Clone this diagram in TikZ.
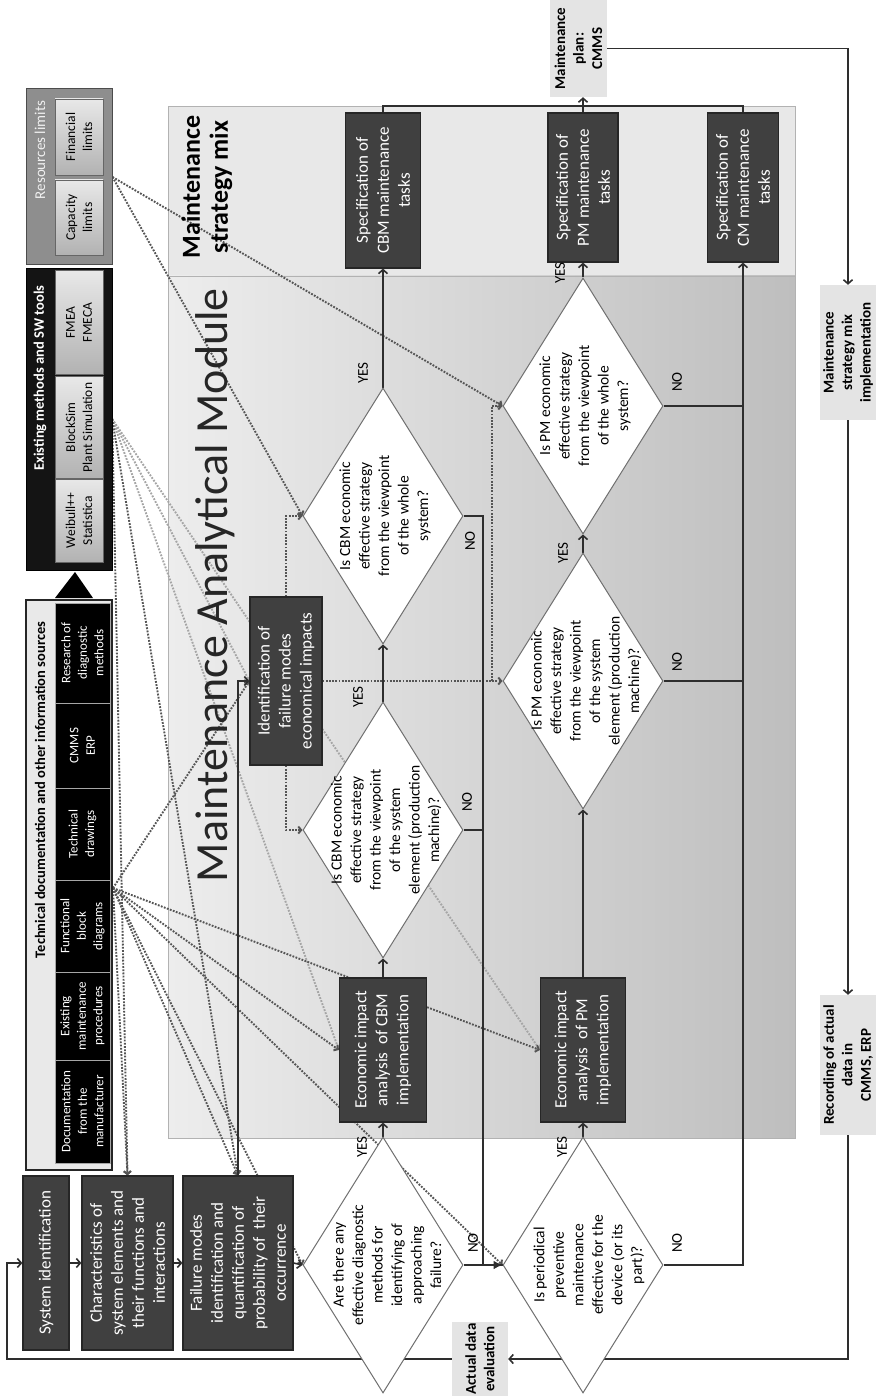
\documentclass[tikz,border=0pt]{standalone}
\usepackage{fontspec}
\setmainfont{Carlito}
\usetikzlibrary{shapes.geometric,arrows.meta,calc}
\pgfdeclarelayer{bg}
\pgfdeclarelayer{wires}
\pgfsetlayers{bg,wires,main}
\definecolor{boxdark}{HTML}{404040}
\definecolor{boxedge}{HTML}{262626}
\definecolor{lbox}{HTML}{E4E4E4}
\definecolor{mixbg}{HTML}{E8E8E8}
\definecolor{modL}{HTML}{EDEDED}
\definecolor{modR}{HTML}{BEBEBE}
\definecolor{resbg}{HTML}{8E8E8E}
\definecolor{btnL}{HTML}{E8E8E8}
\definecolor{btnD}{HTML}{B2B2B2}
\definecolor{dline}{HTML}{555555}
\definecolor{lline}{HTML}{A5A5A5}
\definecolor{dedge}{HTML}{707070}
\definecolor{wirec}{HTML}{2E2E2E}
\definecolor{docbg}{HTML}{E9E9E9}
\tikzset{
  rbox/.style={rotate=90, align=center, inner sep=1pt},
  darkbox/.style={rbox, draw=boxedge, fill=boxdark, text=white, line width=1.2pt,
     font=\fontsize{17}{21}\selectfont},
  blackbox/.style={rbox, draw=gray!70, fill=black, text=white, line width=0.8pt,
     font=\fontsize{13}{16.5}\selectfont, minimum height=55pt},
  btnbox/.style={rbox, draw=gray!80!black, top color=btnL, bottom color=btnD, line width=0.8pt,
     font=\fontsize{13.5}{17}\selectfont, minimum height=48pt},
  lightbox/.style={rbox, fill=lbox, font=\bfseries\fontsize{15}{18.5}\selectfont},
  decision/.style={diamond, rotate=90, draw=dedge, fill=white, line width=1pt,
     minimum width=256pt, minimum height=160pt, inner sep=0pt},
  dtext/.style={rbox, font=\fontsize{15.5}{19.5}\selectfont},
  yn/.style={rbox, font=\fontsize{15}{18}\selectfont},
  wire/.style={draw=wirec, line width=1.6pt},
  arr/.style={wire, -{Straight Barb[length=4pt,width=9pt]}},
  boldarr/.style={wire, line width=2.6pt, -{Latex[length=9pt,width=9pt]}},
  dotline/.style={draw=dline, line width=1.9pt, dash pattern=on 1.8pt off 1.4pt,
     -{Straight Barb[length=3pt,width=7pt]}},
  ldotline/.style={dotline, draw=lline},
}
\begin{document}
\begin{tikzpicture}[x=1pt,y=-1pt]
\useasboundingbox (0,0) rectangle (876,1396);

\begin{pgfonlayer}{bg}
\node[draw=gray!60, fill=mixbg, minimum width=627pt, minimum height=170pt, inner sep=0pt] (mixreg) at (481.5,191) {};
\node[draw=gray!60, left color=modL, right color=modR, minimum width=627pt, minimum height=862pt, inner sep=0pt] (modreg) at (481.5,707) {};
\end{pgfonlayer}

\node[rbox, font=\bfseries\fontsize{26}{28}\selectfont] (mixlbl) at (207,187) {Maintenance\\strategy mix};
\node[rbox, text=black!85, font=\fontsize{46}{50}\selectfont] (modlbl) at (215,585) {Maintenance Analytical Module};

% Resources limits
\node[rbox, fill=resbg, draw=gray!60!black, line width=1pt, minimum width=176pt, minimum height=86pt] (res) at (69,177) {};
\node[rbox, text=white!88!gray, font=\fontsize{15}{18}\selectfont] (restitle) at (40,150) {Resources limits};
\node[btnbox, minimum width=75pt] (cap) at (79,217.5) {Capacity\\limits};
\node[btnbox, minimum width=76pt] (fin) at (79,137) {Financial\\limits};

% Existing methods
\node[rbox, fill=black!92, draw=black, minimum width=302pt, minimum height=86pt] (sw) at (69,419) {};
\node[rbox, text=white, font=\bfseries\fontsize{14.5}{17}\selectfont] (swtitle) at (40,378) {Existing methods and SW tools};
\node[btnbox, minimum width=104pt] (fmea) at (79,322.5) {FMEA\\FMECA};
\node[btnbox, minimum width=102pt] (bsim) at (79,427.5) {BlockSim\\Plant Simulation};
\node[btnbox, minimum width=83pt] (weib) at (79,520.5) {Weibull++\\Statistica};
\fill[black] (75,572) -- (55,598) -- (93,598) -- cycle;

% Technical documentation
\node[rbox, fill=docbg, draw=black!85, line width=1.2pt, minimum width=570pt, minimum height=86pt] (doc) at (69,885) {};
\node[rbox, font=\bfseries\fontsize{14.5}{17}\selectfont] (doctitle) at (40,790) {Technical documentation and other information sources};
\node[blackbox, minimum width=100pt] (research) at (82.5,653) {Research of\\diagnostic\\methods};
\node[blackbox, minimum width=85pt] (cmms) at (82.5,745.5) {CMMS\\ERP};
\node[blackbox, minimum width=92pt] (tdraw) at (82.5,834) {Technical\\drawings};
\node[blackbox, minimum width=92pt] (fblock) at (82.5,926) {Functional\\block\\diagrams};
\node[blackbox, minimum width=88pt] (emaint) at (82.5,1016) {Existing\\maintenance\\procedures};
\node[blackbox, minimum width=103pt] (dman) at (82.5,1111.5) {Documentation\\from the\\manufacturer};

% left chain
\node[darkbox, minimum width=174pt, minimum height=46pt] (sysid) at (46,1263) {System identification};
\node[darkbox, minimum width=174pt, minimum height=91pt] (charact) at (127.5,1263) {Characteristics of\\system elements and\\their functions and\\interactions};
\node[darkbox, minimum width=174pt, minimum height=110pt] (failm) at (238,1263) {Failure modes\\identification and\\quantification of\\probability of\ \ their\\occurrence};

% module boxes
\node[darkbox, minimum width=168pt, minimum height=72pt] (ident) at (286,681) {Identification of\\failure modes\\economical impacts};
\node[darkbox, minimum width=144pt, minimum height=87pt] (cbmimp) at (383,1050) {Economic impact\\analysis\ \ of CBM\\implementation};
\node[darkbox, minimum width=144pt, minimum height=85pt] (pmimp) at (583,1050) {Economic impact\\analysis\ \ of PM\\implementation};
\node[darkbox, minimum width=155pt, minimum height=75pt] (speccbm) at (383,190.5) {Specification of\\CBM maintenance\\tasks};
\node[darkbox, minimum width=149pt, minimum height=70pt] (specpm) at (583,187.5) {Specification of\\PM maintenance\\tasks};
\node[darkbox, minimum width=149pt, minimum height=71pt] (speccm) at (743,187.5) {Specification of\\CM maintenance\\tasks};

% light boxes
\node[lightbox, minimum width=97pt, minimum height=57pt] (mplan) at (578.5,48.5) {Maintenance\\plan:\\CMMS};
\node[lightbox, minimum width=135pt, minimum height=56pt] (msmi) at (848,352.5) {Maintenance\\strategy mix\\implementation};
\node[lightbox, minimum width=140pt, minimum height=56pt] (rec) at (848,1065) {Recording of actual\\data in\\CMMS, ERP};
\node[lightbox, minimum width=74pt, minimum height=56pt] (ade) at (480,1359) {Actual data\\evaluation};

% decisions
\node[decision] (dcbmw) at (383,516) {};
\node[dtext] (tcbmw) at (385,516) {Is CBM economic\\effective strategy\\from the viewpoint\\of the whole\\system?};
\node[decision] (dcbme) at (383,830) {};
\node[dtext] (tcbme) at (386,830) {Is CBM economic\\effective strategy\\from the viewpoint\\of the system\\element (production\\machine)?};
\node[decision] (dpmw) at (583,406) {};
\node[dtext] (tpmw) at (585,406) {Is PM economic\\effective strategy\\from the viewpoint\\of the whole\\system?};
\node[decision] (dpme) at (583,681) {};
\node[dtext] (tpme) at (586,681) {Is PM economic\\effective strategy\\from the viewpoint\\of the system\\element (production\\machine)?};
\node[decision] (dare) at (383,1265) {};
\node[dtext] (tare) at (387,1265) {Are there any\\effective diagnostic\\methods for\\identifying of\\approaching\\failure?};
\node[decision] (dper) at (583,1265) {};
\node[dtext] (tper) at (589,1265) {Is periodical\\preventive\\maintenance\\effective for the\\device (or its\\part)?};

% yes / no labels
\node[yn] (yes1) at (363,373) {YES};
\node[yn] (no1) at (470,541) {NO};
\node[yn] (yes2) at (358,697) {YES};
\node[yn] (no2) at (467,802) {NO};
\node[yn] (yes3) at (362,1147) {YES};
\node[yn] (no3) at (473,1243) {NO};
\node[yn] (yes4) at (560,273) {YES};
\node[yn] (no4) at (677,382) {NO};
\node[yn] (yes5) at (563,553) {YES};
\node[yn] (no5) at (677,662) {NO};
\node[yn] (yes6) at (562,1147) {YES};
\node[yn] (no6) at (677,1243) {NO};

\begin{pgfonlayer}{wires}
% dotted information flows
\coordinate (srcF) at (113,888);
\draw[dotline] (res.south) -- (dcbmw.north);
\draw[dotline] (res.south) -- (dpmw.north);
\draw[ldotline] (sw.south) -- (ident.north);
\draw[ldotline] (sw.south) -- (cbmimp.north);
\draw[ldotline] (sw.south) -- (pmimp.north);
\draw[dotline] (sw.south) -- (charact.east);
\draw[dotline] (sw.south) -- (failm.east);
\draw[dotline] (srcF) -- (ident.north);
\draw[dotline] (srcF) -- (cbmimp.north);
\draw[dotline] (srcF) -- (pmimp.north);
\draw[dotline] (srcF) -- (dare.north);
\draw[dotline] (srcF) -- (dper.north);
\draw[dotline] (srcF) -- (failm.east);
\draw[dotline] (srcF) -- (charact.east);
\draw[dotline] (ident.east) |- (dcbmw.north);
\draw[dotline] (ident.west) |- (dcbme.north);
\draw[dotline] (ident.south) -- (dpme.north);
\coordinate (br) at (492,681);
\draw[dotline] (br) |- (dpmw.north);

% solid flows
\draw[arr] (sysid.south) -- (charact.north);
\draw[arr] (charact.south) -- (failm.north);
\draw[arr] (failm.south) -- (dare.north);
\draw[arr] (failm.east) |- (ident.north);
\draw[arr] (dare.east) -- (cbmimp.west);
\draw[arr] (cbmimp.east) -- (dcbme.west);
\draw[arr] (dcbme.east) -- (dcbmw.west);
\draw[arr] (dcbmw.east) -- (speccbm.west);
\coordinate (nj) at (483,1265);
\draw[wire] (dcbmw.south) -| (nj);
\draw[wire] (dcbme.south) -- (dcbme.south -| nj);
\draw[boldarr] (dare.south) -- (dper.north);
\draw[wire, line width=2.6pt] (nj) -- (dper.north);
\draw[arr] (dper.east) -- (pmimp.west);
\draw[arr] (pmimp.east) -- (dpme.west);
\draw[arr] (dpme.east) -- (dpmw.west);
\draw[arr] (dpmw.east) -- (specpm.west);
\draw[arr] (dper.south) -| (speccm.west);
\draw[wire] (dpmw.south) -- (dpmw.south -| speccm.west);
\draw[wire] (dpme.south) -- (dpme.south -| speccm.west);
\coordinate (tj) at (583,106);
\draw[wire] (speccbm.east) |- (tj);
\draw[wire] (speccm.east) |- (tj);
\draw[arr] (specpm.east) -- (specpm.east |- mplan.west);
\draw[arr] (mplan.south) -| (msmi.east);
\draw[arr] (msmi.west) -- (rec.east);
\draw[arr] (rec.west) |- (ade.south);
\coordinate (fbk) at (7,1359);
\draw[arr] (ade.north) -- (fbk) |- (sysid.north);
\end{pgfonlayer}
\end{tikzpicture}
\end{document}
